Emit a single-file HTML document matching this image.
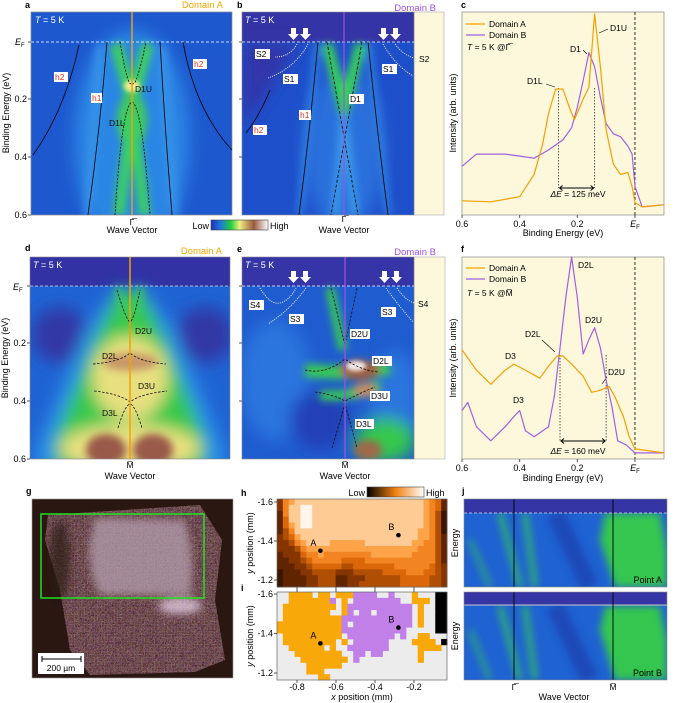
<!DOCTYPE html>
<html><head><meta charset="utf-8"><style>
html,body{margin:0;padding:0;background:#fff}
svg{display:block;font-family:"Liberation Sans",Arial,sans-serif}
</style></head><body>
<svg id="fig" width="675" height="703" viewBox="0 0 675 703" xmlns="http://www.w3.org/2000/svg">
<defs>
<filter id="b2" x="-50%" y="-50%" width="200%" height="200%"><feGaussianBlur stdDeviation="2"/></filter>
<filter id="b4" x="-50%" y="-50%" width="200%" height="200%"><feGaussianBlur stdDeviation="4"/></filter>
<filter id="b8" x="-50%" y="-50%" width="200%" height="200%"><feGaussianBlur stdDeviation="8"/></filter>
<filter id="speck" x="0" y="0" width="100%" height="100%"><feTurbulence type="turbulence" baseFrequency="0.7" numOctaves="2" seed="5" result="t"/><feColorMatrix in="t" type="matrix" values="1.2 0.6 0.2 0 -0.1  0.5 0.9 0.2 0 -0.2  0.6 0.2 1.0 0 -0.2  0 0 0 0 1" result="c"/><feComposite in="c" in2="SourceAlpha" operator="in"/></filter>
<clipPath id="cA"><rect x="31" y="12" width="201" height="203"/></clipPath>
<clipPath id="cB"><rect x="242" y="12" width="172" height="203"/></clipPath>
<clipPath id="cD"><rect x="30" y="257" width="200" height="202"/></clipPath>
<clipPath id="cE"><rect x="242" y="257" width="172" height="202"/></clipPath>
<clipPath id="cG"><rect x="32" y="499" width="201" height="179"/></clipPath>
<clipPath id="cJ1"><rect x="464" y="499" width="203" height="88"/></clipPath>
<clipPath id="cJ2"><rect x="464" y="592" width="203" height="88"/></clipPath>
<linearGradient id="cmap" x1="0" x2="1"><stop offset="0" stop-color="#2030b0"/><stop offset="0.15" stop-color="#1e70e0"/><stop offset="0.35" stop-color="#20d040"/><stop offset="0.5" stop-color="#f0f080"/><stop offset="0.75" stop-color="#9a5a40"/><stop offset="1" stop-color="#ffffff"/></linearGradient>
<linearGradient id="omap" x1="0" x2="1"><stop offset="0" stop-color="#000"/><stop offset="0.5" stop-color="#f08010"/><stop offset="1" stop-color="#fff"/></linearGradient>
</defs>

<!-- ===== Panel a ===== -->
<g>
<text x="25" y="8" font-size="9" font-weight="bold">a</text>
<text x="223" y="8" font-size="9.5" fill="#f5a800" text-anchor="end">Domain A</text>
<g clip-path="url(#cA)">
<rect x="31" y="12" width="201" height="203" fill="#1d58cf"/>
<g filter="url(#b8)"><ellipse cx="132" cy="140" rx="58" ry="110" fill="#2c86e4"/></g>
<g filter="url(#b4)">
<path d="M100,44 L88,215" stroke="#3792e8" stroke-width="8" fill="none"/>
<path d="M162,44 L174,215" stroke="#3792e8" stroke-width="8" fill="none"/>
<path d="M116,44 L132,100 L148,44" stroke="#3ed060" stroke-width="12" fill="none"/>
<ellipse cx="132" cy="120" rx="15" ry="28" fill="#40c860"/>
<path d="M119,215 L132,115 L145,215" stroke="#3ed060" stroke-width="11" fill="none"/>
</g>
<g filter="url(#b2)"><ellipse cx="132" cy="86" rx="8" ry="6" fill="#f4f090"/></g>
</g>
<rect x="31" y="12" width="201" height="203" fill="none" stroke="#888" stroke-width="0.7"/>
<line x1="31" y1="42" x2="232" y2="42" stroke="#fff" stroke-width="0.8" stroke-dasharray="3,2"/>
<g fill="none" stroke="#000" stroke-width="0.8">
<path d="M107,42 Q100,130 88,215"/><path d="M160,42 Q165,130 172,215"/>
<path d="M79,45 Q65,110 33,155"/><path d="M183,42 Q195,110 232,150"/>
<path d="M120,42 Q128,90 132,83 Q136,90 146,42" stroke-dasharray="2,1.5"/>
<path d="M115,215 Q122,105 132,102 Q142,105 150,215" stroke-dasharray="2,1.5"/>
</g>
<line x1="132" y1="12" x2="132" y2="215" stroke="#e8a020" stroke-width="1.5"/>
<text x="35" y="23" font-size="9" fill="#fff"><tspan font-style="italic">T</tspan> = 5 K</text>
<g font-size="8.5">
<rect x="54" y="72" width="14" height="10" fill="#fff"/><text x="55" y="80" fill="#e03020">h2</text>
<rect x="193" y="59" width="14" height="10" fill="#fff"/><text x="194" y="67" fill="#e03020">h2</text>
<rect x="91" y="93" width="11" height="10" fill="#fff"/><text x="92" y="101" fill="#e03020">h1</text>
<text x="135" y="92" fill="#111">D1U</text>
<text x="109" y="126" fill="#111">D1L</text>
</g>
</g>

<!-- y axis row 1 -->
<g font-size="9">
<text x="15" y="45"><tspan font-style="italic">E</tspan><tspan font-size="6" dy="2">F</tspan></text>
<text x="27" y="102" text-anchor="end">0.2</text><line x1="28" y1="99" x2="31" y2="99" stroke="#555"/>
<text x="27" y="160" text-anchor="end">0.4</text><line x1="28" y1="157" x2="31" y2="157" stroke="#555"/>
<text x="27" y="218" text-anchor="end">0.6</text><line x1="28" y1="215" x2="31" y2="215" stroke="#555"/>
<line x1="28" y1="42" x2="31" y2="42" stroke="#555"/>
<text transform="translate(9,113) rotate(-90)" text-anchor="middle" font-size="9">Binding Energy (eV)</text>
</g>
<text x="132" y="225" font-size="8.5" text-anchor="middle">Γ̅</text>
<text x="132" y="233" font-size="9" text-anchor="middle">Wave Vector</text>

<!-- colorbar -->
<g>
<text x="209" y="229" font-size="9" text-anchor="end">Low</text>
<rect x="211" y="220" width="57" height="10" fill="url(#cmap)" stroke="#444" stroke-width="0.6"/>
<text x="270" y="229" font-size="9">High</text>
</g>

<!-- ===== Panel b ===== -->
<g>
<text x="237" y="8" font-size="9" font-weight="bold">b</text>
<text x="436" y="11" font-size="9.5" fill="#a050e0" text-anchor="end">Domain B</text>
<rect x="414" y="12" width="30" height="203" fill="#fdf8dc" stroke="#aaa" stroke-width="0.6"/>
<g clip-path="url(#cB)">
<rect x="242" y="12" width="172" height="203" fill="#1e4fca"/>
<rect x="242" y="12" width="172" height="30" fill="#3534a6"/>
<g filter="url(#b8)"><path d="M242,42 L300,42 L275,80 L255,110 L242,125 Z" fill="#3336a8"/>
<ellipse cx="344" cy="150" rx="40" ry="80" fill="#2a70dc"/></g>
<g filter="url(#b4)">
<path d="M318,44 L300,215" stroke="#2e7ee0" stroke-width="7" fill="none"/>
<path d="M368,44 L388,215" stroke="#2e7ee0" stroke-width="7" fill="none"/>
<path d="M327,44 L344,108 L361,44" stroke="#38d058" stroke-width="11" fill="none"/>
<path d="M335,215 L344,115 L355,215" stroke="#3a9ae8" stroke-width="8" fill="none"/>
</g>
</g>
<rect x="242" y="12" width="172" height="203" fill="none" stroke="#888" stroke-width="0.6"/>
<line x1="242" y1="42" x2="414" y2="42" stroke="#fff" stroke-width="0.8" stroke-dasharray="3,2"/>
<g fill="none" stroke="#000" stroke-width="0.8">
<path d="M318,42 Q310,130 299,215"/><path d="M368,42 Q377,130 388,215"/>
<path d="M270,90 Q260,115 246,133"/>
<path d="M327,42 L358,215" stroke-dasharray="3,2"/><path d="M362,42 L331,215" stroke-dasharray="3,2"/>
</g>
<g fill="none" stroke="#fff" stroke-width="0.9" stroke-dasharray="1,1.2">
<path d="M297,44 Q290,57 275,57"/><path d="M308,44 Q295,68 268,78"/>
<path d="M383,44 Q395,65 413,76"/><path d="M395,44 Q403,55 414,58"/>
</g>
<g fill="#fff">
<path d="M291,28 h5 v6 h3 l-5.5,6 l-5.5,-6 h3z"/><path d="M303,28 h5 v6 h3 l-5.5,6 l-5.5,-6 h3z"/>
<path d="M381,28 h5 v6 h3 l-5.5,6 l-5.5,-6 h3z"/><path d="M393,28 h5 v6 h3 l-5.5,6 l-5.5,-6 h3z"/>
</g>
<line x1="344" y1="12" x2="344" y2="215" stroke="#a050e0" stroke-width="1.2"/>
<text x="245" y="23" font-size="9" fill="#fff"><tspan font-style="italic">T</tspan> = 5 K</text>
<g font-size="8.5">
<rect x="255" y="49" width="15" height="10" fill="#fff"/><text x="256" y="57">S2</text>
<rect x="283" y="74" width="15" height="10" fill="#fff"/><text x="284" y="82">S1</text>
<rect x="382" y="64" width="15" height="10" fill="#fff"/><text x="383" y="72">S1</text>
<text x="419" y="62">S2</text>
<rect x="299" y="110" width="12" height="10" fill="#fff"/><text x="300" y="118" fill="#e03020">h1</text>
<rect x="253" y="125" width="14" height="10" fill="#fff"/><text x="254" y="133" fill="#e03020">h2</text>
<rect x="349" y="94" width="15" height="10" fill="#fff"/><text x="350" y="102">D1</text>
</g>
<line x1="239" y1="42" x2="242" y2="42" stroke="#555"/><line x1="239" y1="99" x2="242" y2="99" stroke="#555"/><line x1="239" y1="157" x2="242" y2="157" stroke="#555"/>
<text x="344" y="222" font-size="8.5" text-anchor="middle">Γ̅</text>
<text x="344" y="233" font-size="9" text-anchor="middle">Wave Vector</text>
</g>

<!-- ===== Panel c ===== -->
<g id="panelC">
<text x="461" y="8" font-size="9" font-weight="bold">c</text>
<rect x="462" y="12" width="202" height="203" fill="#fdf8dc" stroke="#888" stroke-width="0.7"/>
<text transform="translate(456,113) rotate(-90)" text-anchor="middle" font-size="9">Intensity (arb. units)</text>
<text x="563" y="236" text-anchor="middle" font-size="9">Binding Energy (eV)</text>
<g font-size="8.5">
<line x1="466" y1="24" x2="485" y2="24" stroke="#f5a000" stroke-width="1.3"/><text x="489" y="27">Domain A</text>
<line x1="466" y1="35" x2="485" y2="35" stroke="#a060e0" stroke-width="1.3"/><text x="489" y="38">Domain B</text>
<text x="467" y="50"><tspan font-style="italic">T</tspan> = 5 K @Γ̅</text>
</g>
<g font-size="8.5">
<text x="610" y="31">D1U</text><line x1="599" y1="33" x2="608" y2="29" stroke="#000" stroke-width="0.6"/>
<text x="570" y="52">D1</text><line x1="583" y1="50" x2="587" y2="54" stroke="#000" stroke-width="0.6"/>
<text x="527" y="84">D1L</text><line x1="546" y1="84" x2="555" y2="87" stroke="#000" stroke-width="0.6"/>
<text x="578" y="197" text-anchor="middle"><tspan font-style="italic">Δ</tspan><tspan font-style="italic">E</tspan> = 125 meV</text>
</g>
</g>

<!-- ===== Panel d ===== -->
<g>
<text x="25" y="251" font-size="9" font-weight="bold">d</text>
<text x="222" y="254" font-size="9.5" fill="#f5a800" text-anchor="end">Domain A</text>
<g clip-path="url(#cD)">
<rect x="30" y="257" width="200" height="202" fill="#1f63d3"/>
<rect x="30" y="257" width="200" height="29" fill="#3232a4"/>
<g filter="url(#b8)">
<ellipse cx="60" cy="335" rx="28" ry="28" fill="#3337a6"/><ellipse cx="205" cy="335" rx="28" ry="28" fill="#3337a6"/>
<path d="M115,290 L145,290 L175,330 L225,450 L225,470 L35,470 L35,450 L85,330 Z" fill="#2c90e6"/>
<path d="M118,292 L142,292 L165,340 L205,440 L205,470 L55,470 L55,440 L95,340 Z" fill="#34c84c"/>
<ellipse cx="130" cy="378" rx="38" ry="42" fill="#e8e080"/>
<ellipse cx="130" cy="448" rx="70" ry="24" fill="#e8e080"/>
</g>
<g filter="url(#b4)">
<ellipse cx="130" cy="362" rx="28" ry="9" fill="#c89868"/>
<ellipse cx="106" cy="450" rx="20" ry="16" fill="#9a5a48"/><ellipse cx="153" cy="450" rx="20" ry="16" fill="#9a5a48"/>
<path d="M117,288 L130,320 L142,288" stroke="#40c860" stroke-width="6" fill="none"/>
</g>
</g>
<rect x="30" y="257" width="200" height="202" fill="none" stroke="#888" stroke-width="0.6"/>
<line x1="30" y1="286" x2="230" y2="286" stroke="#ddd" stroke-width="0.8" stroke-dasharray="3,2"/>
<g fill="none" stroke="#111" stroke-width="0.8" stroke-dasharray="2.5,1.5">
<path d="M117,290 Q126,320 130,322 Q134,320 140,290"/>
<path d="M93,364 Q120,362 130,353 Q140,362 166,364"/>
<path d="M94,391 Q120,394 130,402 Q140,394 167,391"/>
<path d="M118,428 Q125,405 130,404 Q135,405 142,428"/>
</g>
<line x1="130" y1="257" x2="130" y2="459" stroke="#f5a000" stroke-width="1.5"/>
<text x="33" y="268" font-size="9" fill="#fff"><tspan font-style="italic">T</tspan> = 5 K</text>
<g font-size="8.5" fill="#111">
<text x="135" y="334">D2U</text><text x="102" y="359">D2L</text><text x="138" y="389">D3U</text><text x="102" y="416">D3L</text>
</g>
</g>
<g font-size="9">
<text x="13" y="290"><tspan font-style="italic">E</tspan><tspan font-size="6" dy="2">F</tspan></text>
<text x="26" y="346" text-anchor="end">0.2</text><line x1="27" y1="343" x2="30" y2="343" stroke="#555"/>
<text x="26" y="404" text-anchor="end">0.4</text><line x1="27" y1="401" x2="30" y2="401" stroke="#555"/>
<text x="26" y="462" text-anchor="end">0.6</text><line x1="27" y1="459" x2="30" y2="459" stroke="#555"/>
<line x1="27" y1="286" x2="30" y2="286" stroke="#555"/>
<text transform="translate(8,358) rotate(-90)" text-anchor="middle">Binding Energy (eV)</text>
</g>
<text x="130" y="468" font-size="8.5" text-anchor="middle">M̅</text>
<text x="130" y="479" font-size="9" text-anchor="middle">Wave Vector</text>

<!-- ===== Panel e ===== -->
<g>
<text x="237" y="252" font-size="9" font-weight="bold">e</text>
<text x="436" y="255" font-size="9.5" fill="#a050e0" text-anchor="end">Domain B</text>
<rect x="414" y="257" width="31" height="202" fill="#fdf8dc" stroke="#aaa" stroke-width="0.6"/>
<g clip-path="url(#cE)">
<rect x="242" y="257" width="172" height="202" fill="#1f5ccf"/>
<rect x="242" y="257" width="172" height="29" fill="#3535a8"/>
<g filter="url(#b8)">
<ellipse cx="275" cy="380" rx="35" ry="60" fill="#2a74de"/>
<ellipse cx="395" cy="400" rx="25" ry="50" fill="#2a74de"/>
<ellipse cx="320" cy="420" rx="30" ry="30" fill="#2340b8"/>
<ellipse cx="385" cy="440" rx="30" ry="22" fill="#34c84c"/>
</g>
<g filter="url(#b4)">
<path d="M330,288 L343,350" stroke="#38c858" stroke-width="9" fill="none"/>
<path d="M305,370 Q340,375 390,368" stroke="#38c858" stroke-width="14" fill="none"/>
<path d="M320,395 Q350,398 380,385" stroke="#38c858" stroke-width="10" fill="none"/>
<ellipse cx="360" cy="370" rx="20" ry="10" fill="#a06040"/>
<ellipse cx="365" cy="390" rx="12" ry="7" fill="#c89060"/>
<ellipse cx="368" cy="450" rx="14" ry="10" fill="#a06848"/>
</g>
<g filter="url(#b2)"><ellipse cx="356" cy="366" rx="10" ry="5" fill="#f4ecec"/></g>
</g>
<rect x="242" y="257" width="172" height="202" fill="none" stroke="#888" stroke-width="0.6"/>
<line x1="242" y1="286" x2="414" y2="286" stroke="#fff" stroke-width="0.8" stroke-dasharray="3,2"/>
<g fill="none" stroke="#111" stroke-width="0.8" stroke-dasharray="2.5,1.5">
<path d="M331,288 L345,345"/><path d="M357,288 L346,340"/>
<path d="M305,370 Q325,375 345,359 Q360,370 378,372"/>
<path d="M315,392 Q335,395 345,401 Q360,393 375,387"/>
<path d="M332,448 L345,404 L357,448"/>
</g>
<g fill="none" stroke="#fff" stroke-width="0.9" stroke-dasharray="1,1.2">
<path d="M260,288 Q270,305 280,303 Q290,300 296,288"/><path d="M306,288 Q290,310 268,324"/>
<path d="M386,288 Q398,305 413,322"/><path d="M397,288 Q405,300 414,303"/>
</g>
<g fill="#fff">
<path d="M291,271 h5 v6 h3 l-5.5,6 l-5.5,-6 h3z"/><path d="M303,271 h5 v6 h3 l-5.5,6 l-5.5,-6 h3z"/>
<path d="M382,271 h5 v6 h3 l-5.5,6 l-5.5,-6 h3z"/><path d="M394,271 h5 v6 h3 l-5.5,6 l-5.5,-6 h3z"/>
</g>
<line x1="345" y1="257" x2="345" y2="459" stroke="#a050e0" stroke-width="1.3"/>
<text x="245" y="268" font-size="9" fill="#fff"><tspan font-style="italic">T</tspan> = 5 K</text>
<g font-size="8.5">
<rect x="249" y="300" width="15" height="10" fill="#fff"/><text x="250" y="308">S4</text>
<rect x="289" y="314" width="15" height="10" fill="#fff"/><text x="290" y="322">S3</text>
<rect x="381" y="307" width="15" height="10" fill="#fff"/><text x="382" y="315">S3</text>
<text x="418" y="307">S4</text>
<rect x="350" y="329" width="20" height="10" fill="#fff"/><text x="351" y="337">D2U</text>
<rect x="372" y="356" width="20" height="10" fill="#fff"/><text x="373" y="364">D2L</text>
<rect x="370" y="391" width="20" height="10" fill="#fff"/><text x="371" y="399">D3U</text>
<rect x="355" y="419" width="19" height="10" fill="#fff"/><text x="356" y="427">D3L</text>
</g>
<line x1="239" y1="286" x2="242" y2="286" stroke="#555"/><line x1="239" y1="343" x2="242" y2="343" stroke="#555"/><line x1="239" y1="401" x2="242" y2="401" stroke="#555"/>
<text x="345" y="468" font-size="8.5" text-anchor="middle">M̅</text>
<text x="345" y="479" font-size="9" text-anchor="middle">Wave Vector</text>
</g>

<!-- ===== Panel f ===== -->
<g id="panelF">
<text x="461" y="252" font-size="9" font-weight="bold">f</text>
<rect x="462" y="257" width="202" height="202" fill="#fdf8dc" stroke="#888" stroke-width="0.7"/>
<text transform="translate(456,358) rotate(-90)" text-anchor="middle" font-size="9">Intensity (arb. units)</text>
<text x="563" y="481" text-anchor="middle" font-size="9">Binding Energy (eV)</text>
<g font-size="8.5">
<line x1="466" y1="268" x2="485" y2="268" stroke="#f5a000" stroke-width="1.3"/><text x="489" y="271">Domain A</text>
<line x1="466" y1="279" x2="485" y2="279" stroke="#a060e0" stroke-width="1.3"/><text x="489" y="282">Domain B</text>
<text x="467" y="296"><tspan font-style="italic">T</tspan> = 5 K @M̅</text>
</g>
<g font-size="8.5">
<text x="578" y="268">D2L</text>
<text x="585" y="323">D2U</text>
<text x="525" y="337">D2L</text><line x1="542" y1="340" x2="555" y2="352" stroke="#000" stroke-width="0.6"/>
<text x="505" y="359">D3</text>
<text x="513" y="403">D3</text>
<text x="608" y="375">D2U</text><line x1="607" y1="377" x2="602" y2="384" stroke="#000" stroke-width="0.6"/>
<text x="578" y="454" text-anchor="middle"><tspan font-style="italic">ΔE</tspan> = 160 meV</text>
</g>
</g>

<!-- ===== Panel g ===== -->
<g>
<text x="26" y="494" font-size="9" font-weight="bold">g</text>
<g clip-path="url(#cG)">
<rect x="32" y="499" width="201" height="179" fill="#2a1712"/>
<path d="M48,515 L200,505 L222,540 L215,600 L225,660 L195,672 L90,675 L70,650 L60,590 L45,540 Z" fill="#4a3230"/>
<path d="M48,515 L200,505 L222,540 L215,600 L225,660 L195,672 L90,675 L70,650 L60,590 L45,540 Z" fill="#fff" filter="url(#speck)" opacity="0.4"/>
<g filter="url(#b4)">
<path d="M95,518 Q82,560 100,595 L190,595 Q196,560 185,520 Z" fill="#b8a4b4" opacity="0.7"/>
<ellipse cx="180" cy="606" rx="22" ry="8" fill="#f0d8f0" opacity="0.7"/>
<ellipse cx="60" cy="560" rx="10" ry="40" fill="#2a1712" opacity="0.7"/>
</g>
</g>
<rect x="32" y="499" width="201" height="179" fill="none" stroke="#999" stroke-width="0.6"/>
<rect x="41" y="514" width="163" height="84" fill="none" stroke="#20e020" stroke-width="1.5"/>
<rect x="38" y="653" width="46" height="21" fill="#fff"/>
<line x1="42" y1="659" x2="81" y2="659" stroke="#000" stroke-width="1"/><line x1="42" y1="656" x2="42" y2="662" stroke="#000"/><line x1="81" y1="656" x2="81" y2="662" stroke="#000"/>
<text x="61" y="671" font-size="8.5" text-anchor="middle">200 µm</text>
</g>

<!-- ===== Panel h / i ===== -->
<g id="panelH">
<text x="241" y="496" font-size="9" font-weight="bold">h</text>
<text x="365" y="496" font-size="9" text-anchor="end">Low</text>
<rect x="367" y="487" width="57" height="10" fill="url(#omap)" stroke="#444" stroke-width="0.6"/>
<text x="426" y="496" font-size="9">High</text>
<text transform="translate(253,543) rotate(-90)" text-anchor="middle" font-size="9"><tspan font-style="italic">y</tspan> position (mm)</text>
</g>
<g id="panelI">
<text x="241" y="591" font-size="9" font-weight="bold">i</text>
<text transform="translate(253,636) rotate(-90)" text-anchor="middle" font-size="9"><tspan font-style="italic">y</tspan> position (mm)</text>
<text x="362" y="700" text-anchor="middle" font-size="9"><tspan font-style="italic">x</tspan> position (mm)</text>
</g>

<!-- ===== Panel j ===== -->
<g>
<text x="462" y="494" font-size="9" font-weight="bold">j</text>
<g clip-path="url(#cJ1)">
<rect x="464" y="499" width="203" height="88" fill="#1f62d2"/>
<g filter="url(#b4)">
<path d="M605,513 L660,513 L667,550 L667,587 L615,587 L600,540 Z" fill="#34c650"/>
<path d="M500,513 L520,587" stroke="#30c060" stroke-width="5"/><path d="M525,513 L535,587" stroke="#30c060" stroke-width="5"/>
<path d="M470,540 L490,587" stroke="#30b070" stroke-width="4"/>
<path d="M555,513 L590,587" stroke="#1a48b8" stroke-width="18"/>
</g>
<rect x="464" y="499" width="203" height="14" fill="#3535a5"/>
</g>
<line x1="464" y1="513" x2="667" y2="513" stroke="#ddd" stroke-width="0.8" stroke-dasharray="3,2"/>
<line x1="514" y1="499" x2="514" y2="587" stroke="#000" stroke-width="0.9"/><line x1="613" y1="499" x2="613" y2="587" stroke="#000" stroke-width="0.9"/>
<rect x="464" y="499" width="203" height="88" fill="none" stroke="#888" stroke-width="0.6"/>
<text x="662" y="583" font-size="9" text-anchor="end">Point A</text>
<g clip-path="url(#cJ2)">
<rect x="464" y="592" width="203" height="88" fill="#1f62d2"/>
<g filter="url(#b4)">
<path d="M605,606 L660,606 L667,640 L667,680 L615,680 L600,630 Z" fill="#34c650"/>
<path d="M500,606 L520,680" stroke="#30c060" stroke-width="5"/><path d="M525,606 L535,680" stroke="#30c060" stroke-width="5"/>
<path d="M470,630 L490,680" stroke="#30b070" stroke-width="4"/>
<path d="M555,606 L590,680" stroke="#1a48b8" stroke-width="18"/>
</g>
<rect x="464" y="592" width="203" height="13" fill="#3535a5"/>
</g>
<line x1="464" y1="605" x2="667" y2="605" stroke="#ccc" stroke-width="1"/>
<line x1="514" y1="592" x2="514" y2="680" stroke="#000" stroke-width="0.9"/><line x1="613" y1="592" x2="613" y2="680" stroke="#000" stroke-width="0.9"/>
<rect x="464" y="592" width="203" height="88" fill="none" stroke="#888" stroke-width="0.6"/>
<text x="662" y="676" font-size="9" text-anchor="end">Point B</text>
<text transform="translate(458,543) rotate(-90)" text-anchor="middle" font-size="9">Energy</text>
<text transform="translate(458,636) rotate(-90)" text-anchor="middle" font-size="9">Energy</text>
<text x="514" y="690" font-size="8.5" text-anchor="middle">Γ̅</text>
<text x="613" y="690" font-size="8.5" text-anchor="middle">M̅</text>
<text x="564" y="700" font-size="9" text-anchor="middle">Wave Vector</text>
</g>
</svg>
<script>
// ---- panel c data ----
const energiesCA = [0.6,0.5,0.4,0.35,0.32,0.3,0.275,0.25,0.225,0.21,0.18,0.16,0.14,0.12,0.1,0.075,0.05,0.025,0.01,0,-0.025,-0.1];
const valsCA = [0.07,0.065,0.09,0.2,0.35,0.5,0.62,0.62,0.52,0.47,0.57,0.63,0.99,0.73,0.42,0.25,0.2,0.21,0.14,0.06,0.04,0.05];
const energiesCB = [0.6,0.55,0.5,0.45,0.4,0.35,0.3,0.25,0.22,0.2,0.18,0.16,0.14,0.12,0.1,0.075,0.05,0.025,0.01,0,-0.025,-0.1];
const valsCB = [0.24,0.3,0.3,0.3,0.29,0.28,0.32,0.37,0.43,0.53,0.66,0.8,0.73,0.58,0.45,0.4,0.385,0.34,0.3,0.14,0.04,0.05];
// ---- panel f data ----
const energiesFA = [0.6,0.55,0.5,0.45,0.42,0.38,0.33,0.3,0.27,0.25,0.22,0.18,0.15,0.12,0.09,0.07,0.04,0.02,0,-0.1];
const valsFA = [0.54,0.44,0.37,0.44,0.47,0.44,0.4,0.46,0.51,0.51,0.47,0.41,0.33,0.34,0.36,0.31,0.21,0.11,0.05,0.03];
const energiesFB = [0.6,0.58,0.55,0.5,0.45,0.42,0.4,0.38,0.35,0.3,0.28,0.26,0.24,0.22,0.2,0.18,0.16,0.14,0.12,0.1,0.08,0.06,0.03,0,-0.1];
const valsFB = [0.24,0.28,0.16,0.09,0.16,0.21,0.24,0.14,0.11,0.16,0.31,0.55,0.8,1.0,0.8,0.52,0.59,0.65,0.55,0.39,0.26,0.09,0.07,0.03,0.03];
const energyTicks = [0.6,0.4,0.2,0];
const energyTickLabels = ['0.6','0.4','0.2','E_F'];
const markersC = [0.265,0.14];
const markersF = [0.26,0.1];
// ---- panels h/i data ----
const xTicks = [-0.8,-0.6,-0.4,-0.2];
const yTicks = [-1.6,-1.4,-1.2];
const pointX = [-0.68,-0.28];
const pointY = [-1.35,-1.43];
const pointNames = ['A','B'];
const intensityRows = [
"36788888888888888888888887652",
"36889988888888888888888887652",
"26889988888888888888888887641",
"25889988888888888888888887641",
"25789988888888888888888887641",
"24688888888888888888888877641",
"34578888888888888888888877642",
"33467888877777788888888776642",
"33346777777777777777777766642",
"23335667666666667777777666642",
"22334566666555566666666666642",
"22233455555445555555666666543",
"12223344443334444455556665543",
"12222334442233344444455555443",
"12222334442233444444455555443"];
const domainRows = [
"..oooo.oo.ooopppp..p...o...kk",
"..ooooooop.o.pppppppp..ooo.kk",
".ooooooooo.oppppppppppp.o..kk",
".oooooooo..op.pp.pppppp.o..kk",
".oooooooooopppppppppppp.o..kk",
"ooooooooooop.pppppppppp.o..kk",
"oooooooooooppppppppppp.....kk",
".oooooooooo.pppppppp.p..oo...",
".ooooooooo.o.pppppp....oooo.k",
"..oooooo.o..ppppppp.....oooo.",
"...oooooooo..pp.pp......o....",
"....oooooooo.p..........o....",
".....oooooo..................",
".....ooo.....................",
".......oo...................."];

const NS='http://www.w3.org/2000/svg';
const svg=document.getElementById('fig');
function mk(tag,attrs,parent){const e=document.createElementNS(NS,tag);for(const k in attrs)e.setAttribute(k,attrs[k]);(parent||svg).appendChild(e);return e;}

function xE(e){return 462+(0.6-e)*288.3;}
function yC(v){return 215-v*203;}
function yF(v){return 459-v*202;}

function spectrum(parent,es,vs,yf,color,name){
  let d='';
  for(let i=0;i<es.length;i++){d+=(i?'L':'M')+xE(es[i]).toFixed(1)+','+yf(vs[i]).toFixed(1);}
  const p=mk('path',{d:d,fill:'none',stroke:color,'stroke-width':1.2,'stroke-linejoin':'round'},parent);
  
  
}
function energyAxis(parent,yBase){
  for(let i=0;i<energyTicks.length;i++){
    const x=xE(energyTicks[i]);
    const t=mk('line',{x1:x,y1:yBase,x2:x,y2:yBase+3,stroke:'#555'},parent);
    
    
    const lab=energyTickLabels[i];
    const tx=mk('text',{x:x,y:yBase+12,'font-size':9,'text-anchor':'middle'},parent);
    
    
    if(lab==='E_F'){tx.innerHTML='<tspan font-style="italic">E</tspan><tspan font-size="6" dy="2">F</tspan>';}
    else tx.textContent=lab;
  }
}
function markers(parent,ms,yTop,yBot){
  for(const m of ms){
    const l=mk('line',{x1:xE(m),y1:yTop,x2:xE(m),y2:yBot,stroke:'#333','stroke-width':0.8,'stroke-dasharray':'1.5,1.5'},parent);
    
    
  }
  const a=mk('path',{d:`M${xE(ms[0])+1},${yBot} L${xE(ms[1])-1},${yBot} M${xE(ms[0])+4},${yBot-2.5} L${xE(ms[0])+1},${yBot} L${xE(ms[0])+4},${yBot+2.5} M${xE(ms[1])-4},${yBot-2.5} L${xE(ms[1])-1},${yBot} L${xE(ms[1])-4},${yBot+2.5}`,stroke:'#000','stroke-width':1,fill:'none'},parent);
  
  
}
const gC=document.getElementById('panelC');
const efC=mk('line',{x1:xE(0),y1:12,x2:xE(0),y2:215,stroke:'#000','stroke-width':0.8,'stroke-dasharray':'3,2'},gC);


markers(gC,markersC,88,188);
spectrum(gC,energiesCB,valsCB,yC,'#a060e0','series-domain-b-c');
spectrum(gC,energiesCA,valsCA,yC,'#f5a000','series-domain-a-c');
energyAxis(gC,215);

const gF=document.getElementById('panelF');
const efF=mk('line',{x1:xE(0),y1:257,x2:xE(0),y2:459,stroke:'#000','stroke-width':0.8,'stroke-dasharray':'3,2'},gF);


markers(gF,markersF,355,441);
spectrum(gF,energiesFB,valsFB,yF,'#a060e0','series-domain-b-f');
spectrum(gF,energiesFA,valsFA,yF,'#f5a000','series-domain-a-f');
energyAxis(gF,459);

function xPos(v){return 297+(v+0.8)*195;}
function yH(v){return 502+(-1.6-v)*(-195);}
function yI(v){return 594+(-1.6-v)*(-197.5);}
const X0=277,W=170,NC=29,NR=15;
const cw=W/NC;
function omap(t){
  const stops=[[0,[20,5,0]],[0.35,[140,55,0]],[0.6,[235,115,10]],[0.8,[255,170,80]],[1,[255,245,235]]];
  for(let i=1;i<stops.length;i++){if(t<=stops[i][0]){const a=stops[i-1],b=stops[i];const f=(t-a[0])/(b[0]-a[0]);return 'rgb('+a[1].map((c,j)=>Math.round(c+(b[1][j]-c)*f)).join(',')+')';}}
  return 'rgb(255,245,235)';
}
const gH=document.getElementById('panelH');
const hTop=499,hH=88,chH=hH/NR;
for(let r=0;r<NR;r++){for(let c=0;c<NC;c++){
  const v=parseInt(intensityRows[r][c]||'5')/9;
  const cell=mk('rect',{x:X0+c*cw,y:hTop+r*chH,width:cw+0.4,height:chH+0.4,fill:omap(v)},gH);
  
  
}}
mk('rect',{x:X0,y:hTop,width:W,height:hH,fill:'none',stroke:'#666','stroke-width':0.7},gH);
const gI=document.getElementById('panelI');
const iTop=592,iH=88,ciH=iH/NR;
const dcol={o:'#f8a808',p:'#c080e8',k:'#000','.':'#ececec'};
mk('rect',{x:X0,y:iTop,width:W,height:iH,fill:'#ececec'},gI);
for(let r=0;r<NR;r++){for(let c=0;c<NC;c++){
  const ch=domainRows[r][c]||'.';
  if(ch==='.')continue;
  const cell=mk('rect',{x:X0+c*cw,y:iTop+r*ciH,width:cw+0.4,height:ciH+0.4,fill:dcol[ch]},gI);
  
  
}}
mk('rect',{x:X0,y:iTop,width:W,height:iH,fill:'none',stroke:'#666','stroke-width':0.7},gI);
for(const v of yTicks){
  for(const [g,yf] of [[gH,yH],[gI,yI]]){
    const y=yf(v);
    const t=mk('line',{x1:X0-3,y1:y,x2:X0,y2:y,stroke:'#555'},g);
    
    
    const tx=mk('text',{x:X0-4,y:y+3,'font-size':9,'text-anchor':'end'},g);
    
    
    tx.textContent=v.toFixed(1);
  }
}
for(const v of xTicks){
  const x=xPos(v);
  mk('line',{x1:x,y1:iTop+iH,x2:x,y2:iTop+iH+3,stroke:'#555'},gI);
  mk('line',{x1:x,y1:hTop+hH,x2:x,y2:iTop,stroke:'#555'},gI);
  const tx=mk('text',{x:x,y:690,'font-size':9,'text-anchor':'middle'},gI);
  
  
  tx.textContent=v.toFixed(1);
}
for(let k=0;k<pointX.length;k++){
  for(const [g,yf] of [[gH,yH],[gI,yI]]){
    const cx=xPos(pointX[k]),cy=yf(pointY[k]);
    const dot=mk('circle',{cx:cx,cy:cy,r:2.3,fill:'#000'},g);
    
    
    const lb=mk('text',{x:cx-4,y:cy-5,'font-size':9,'text-anchor':'end'},g);
    
    
    lb.textContent=pointNames[k];
  }
}
</script>
</body></html>
